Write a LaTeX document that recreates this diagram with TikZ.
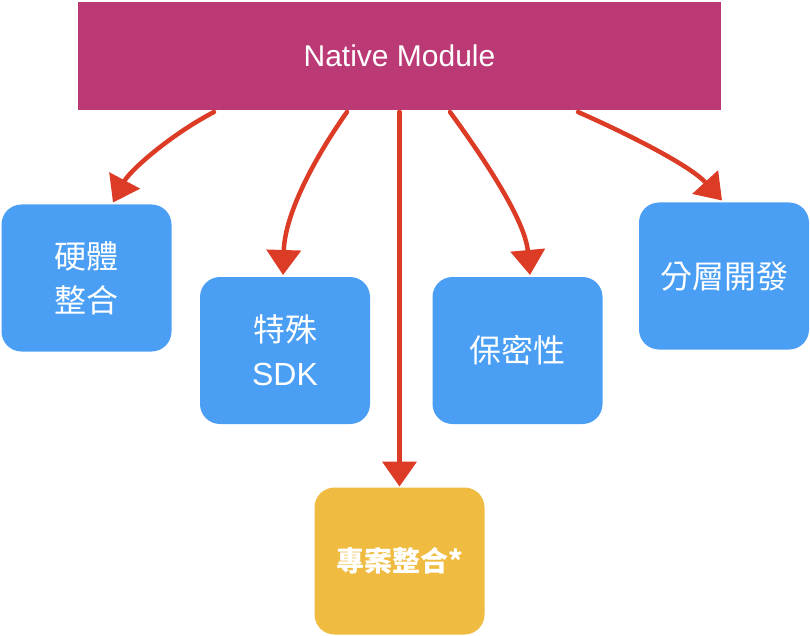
\documentclass[tikz,border=0pt]{standalone}
\usepackage{fontspec}
\setmainfont{Liberation Sans}
\newfontfamily\cjk{Noto Sans CJK TC}
\usetikzlibrary{arrows.meta}

\definecolor{modmagenta}{HTML}{BB3A76}
\definecolor{boxblue}{HTML}{4A9FF5}
\definecolor{boxyellow}{HTML}{EFBC41}
\definecolor{penred}{HTML}{DC3B26}

\begin{document}
\begin{tikzpicture}[y=1pt, x=1pt, yscale=-1, inner sep=0pt, outer sep=0pt,
  topic/.style={fill=boxblue, rounded corners=20pt, minimum width=170pt,
    minimum height=147pt, text=white, align=center,
    font=\cjk\fontsize{32}{44}\selectfont},
  penarrow/.style={draw=penred, line width=4.5pt, line cap=round,
    -{Triangle[length=25pt,width=34pt]}}]
\useasboundingbox (0,0) rectangle (810,636);

% top module
\path[fill=modmagenta] (399.5,56) node[minimum width=643pt, minimum height=108pt,
  fill=modmagenta, text=white, font=\fontsize{30}{36}\selectfont] (native)
  {Native Module};

% topic boxes
\path (86.5,278) node[topic] (hardware) {硬體\\整合};
\path (285,350.5) node[topic] (sdk) {特殊\\{\fontfamily{\familydefault}\selectfont SDK}};
\path (517.5,350.5) node[topic] (secret) {保密性};
\path (724,276) node[topic] (layered) {分層開發};
\path (399.5,561) node[topic, fill=boxyellow,
  font=\cjk\bfseries\fontsize{28}{34}\selectfont] (project) {專案整合*};

% arrows
\path[penarrow] ([xshift=-185.5pt,yshift=2pt]native.south)
  .. controls +(-44,23) and +(17,-32) .. ([xshift=26.5pt,yshift=-2pt]hardware.north);
\path[penarrow] ([xshift=-52.5pt,yshift=2pt]native.south)
  .. controls +(-27,38) and +(2,-65) .. ([xshift=-2pt,yshift=-2pt]sdk.north);
\path[penarrow] ([yshift=2pt]native.south) -- ([yshift=-1pt]project.north);
\path[penarrow] ([xshift=50.5pt,yshift=2pt]native.south)
  .. controls +(35,48) and +(-5,-55) .. ([xshift=12.5pt,yshift=-2pt]secret.north);
\path[penarrow] ([xshift=178.5pt,yshift=2pt]native.south)
  .. controls +(52,23) and +(-32,-35) .. ([xshift=-2pt,yshift=-2pt]layered.north);

\end{tikzpicture}
\end{document}
